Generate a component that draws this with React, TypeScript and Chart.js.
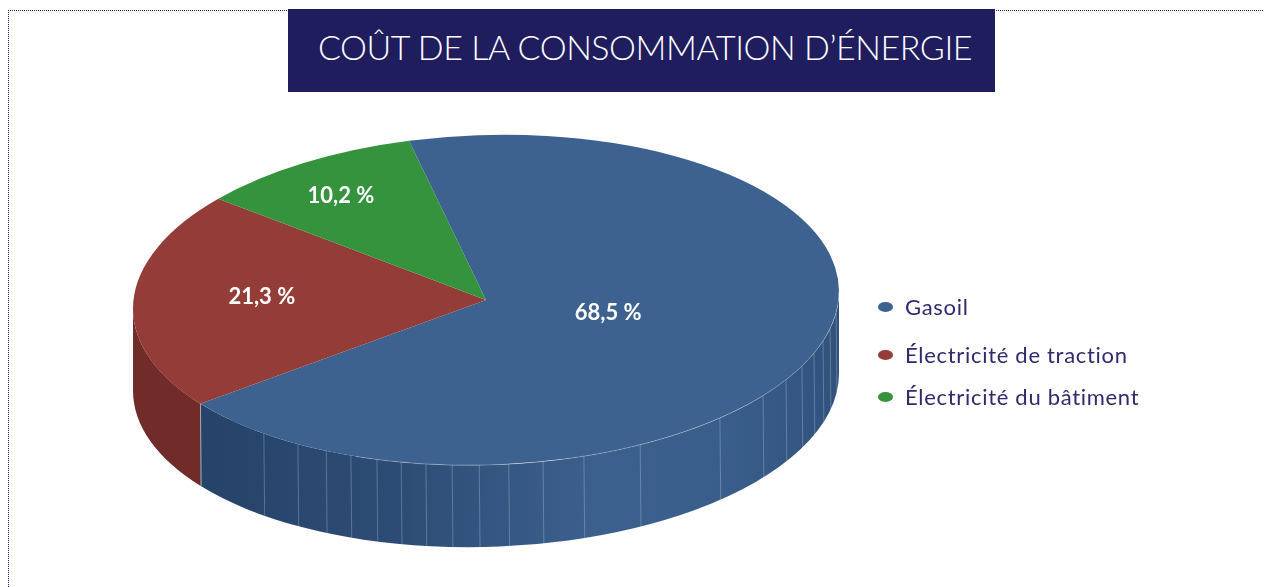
import React, { useEffect, useRef } from "react";
import { Chart, registerables } from "chart.js";

Chart.register(...registerables);

const titleText = "COÛT DE LA CONSOMMATION D’ÉNERGIE";
const categories = ["Gasoil", "Électricité de traction", "Électricité du bâtiment"];
const shares = [68.5, 21.3, 10.2];
const shareLabels = ["68,5 %", "21,3 %", "10,2 %"];
const topColors = ["#3d6290", "#943c38", "#35923d"];
const wallColors = ["#3d6290", "#712b28", "#2a7030"];
// where each value label sits, as a fraction of the ellipse radii from the centre
const labelAnchors = [
  [0.346, 0.076],
  [-0.635, -0.018],
  [-0.411, -0.63],
];
// vertical seams of the blue wall, degrees either side of the front of the pie
const seamAngles = [-39, -32.2, -26.9, -22.5, -18, -13.9, -9.8, -5.5, -1.1, 3.7, 9.3, 16.1, 25.9, 41.5, 51.7, 58.2, 63.5, 68.3, 72.7, 77.1, 82.7];
const legendRows = [307, 355, 397];

const RX = 353;
const RY = 165;
const DEPTH = 82;
const TILT = 0.024;

const pie3d = {
  id: "pie3d",
  beforeDatasetsDraw(chart: any) {
    const ctx = chart.ctx;
    const arcs = chart.getDatasetMeta(0).data;
    const { x: cx, y: cy } = arcs[0];
    ctx.save();
    ctx.translate(cx, cy);
    ctx.transform(1, -TILT, 0, 1, 0, 0);
    ctx.translate(-cx, -cy);
    // Walls: only the part of each slice's rim that faces the viewer
    arcs.forEach((arc: any, i: number) => {
      const segments: [number, number][] = [];
      for (const off of [0, Math.PI * 2]) {
        const a = Math.max(arc.startAngle + off, 0);
        const b = Math.min(arc.endAngle + off, Math.PI);
        if (b > a) segments.push([a, b]);
      }
      for (const [a, b] of segments) {
        ctx.beginPath();
        ctx.ellipse(cx, cy, RX, RY, 0, a, b);
        ctx.ellipse(cx, cy + DEPTH, RX, RY, 0, b, a, true);
        ctx.closePath();
        if (i === 0) {
          const g = ctx.createLinearGradient(cx - RX * 0.8, 0, cx + RX, 0);
          g.addColorStop(0, "#264369");
          g.addColorStop(0.3, "#2d4c75");
          g.addColorStop(0.62, "#3c608e");
          g.addColorStop(0.82, "#3a5e8b");
          g.addColorStop(1, "#30527d");
          ctx.fillStyle = g;
        } else {
          ctx.fillStyle = wallColors[i];
        }
        ctx.fill();
      }
    });
    // Seams on the wall
    ctx.strokeStyle = "rgba(255,255,255,0.24)";
    ctx.lineWidth = 1;
    for (const deg of seamAngles) {
      const t = ((90 - deg) * Math.PI) / 180;
      const x = cx + RX * Math.cos(t);
      const y = cy + RY * Math.sin(t);
      ctx.beginPath();
      ctx.moveTo(x, y);
      ctx.lineTo(x + 0.8, y + DEPTH);
      ctx.stroke();
    }
    // Seam between the red and the blue wall
    const end = arcs[0].endAngle;
    const ex = cx + RX * Math.cos(end);
    const ey = cy + RY * Math.sin(end);
    ctx.strokeStyle = "rgba(255,255,255,0.4)";
    ctx.beginPath();
    ctx.moveTo(ex, ey);
    ctx.lineTo(ex + 1, ey + DEPTH);
    ctx.stroke();
    ctx.restore();
  },
  beforeDatasetDraw(chart: any) {
    const ctx = chart.ctx;
    const arc = chart.getDatasetMeta(0).data[0];
    ctx.save();
    ctx.translate(arc.x, arc.y);
    ctx.transform(1, -TILT, 0, 1, 0, 0);
    ctx.scale(RX / arc.outerRadius, RY / arc.outerRadius);
    ctx.translate(-arc.x, -arc.y);
  },
  afterDatasetDraw(chart: any) {
    chart.ctx.restore();
  },
  afterDatasetsDraw(chart: any) {
    const ctx = chart.ctx;
    const arcs = chart.getDatasetMeta(0).data;
    const { x: cx, y: cy } = arcs[0];
    // Pale rim on the lit front edge
    ctx.save();
    ctx.translate(cx, cy);
    ctx.transform(1, -TILT, 0, 1, 0, 0);
    ctx.translate(-cx, -cy);
    ctx.strokeStyle = "rgba(255,255,255,0.32)";
    ctx.lineWidth = 0.8;
    ctx.beginPath();
    ctx.ellipse(cx, cy, RX, RY, 0, 0, Math.PI * 0.62);
    ctx.stroke();
    ctx.restore();
    // Value labels
    ctx.save();
    ctx.fillStyle = "#ffffff";
    ctx.font = "700 22px Lato";
    ctx.textAlign = "center";
    ctx.textBaseline = "middle";
    shareLabels.forEach((label, i) => {
      ctx.fillText(label, cx + labelAnchors[i][0] * RX, cy + labelAnchors[i][1] * RY);
    });
    ctx.restore();
  },
};

export default function App() {
  const ref = useRef<HTMLCanvasElement>(null);
  useEffect(() => {
    const chart = new Chart(ref.current!, {
      type: "pie",
      data: {
        labels: categories,
        datasets: [
          { data: shares, backgroundColor: topColors, borderWidth: 0, clip: false } as any,
        ],
      },
      options: {
        animation: false,
        responsive: false,
        rotation: -12.6,
        layout: { padding: { left: 0, right: 292, top: 20, bottom: 7 } },
        plugins: { legend: { display: false }, tooltip: { enabled: false } },
      },
      plugins: [pie3d],
    });
    return () => chart.destroy();
  }, []);

  return (
    <div style={{ position: "fixed", left: 0, top: 0, width: 1264, height: 587, overflow: "hidden", background: "#fff" }}>
      <div style={{ position: "absolute", left: 8, top: 10, width: 1300, height: 640, borderTop: "1px dotted #23207a", borderLeft: "1px dotted #23207a" }} />
      <canvas ref={ref} width={1264} height={587} style={{ position: "absolute", left: 0, top: 0, width: 1264, height: 587 }} />
      <div
        style={{
          position: "absolute", left: 288, top: 9, width: 707, height: 83, background: "#1f1d5e", color: "#fff",
          fontFamily: "Lato", fontWeight: 300, fontSize: 34, letterSpacing: -0.44, lineHeight: "76px", whiteSpace: "nowrap", textAlign: "center", paddingLeft: 7, boxSizing: "border-box",
        }}
      >
        {titleText}
      </div>
      {categories.map((name, i) => (
        <div key={name} style={{ position: "absolute", left: 878, top: legendRows[i] - 14, height: 28, display: "flex", alignItems: "center", whiteSpace: "nowrap" }}>
          <span style={{ display: "inline-block", width: 15, height: 10, borderRadius: "50%", background: topColors[i], marginRight: 12 }} />
          <span style={{ fontFamily: "Lato", fontSize: 22, color: "#2e2a6e", letterSpacing: 0.7, position: "relative", top: -1 }}>{name}</span>
        </div>
      ))}
    </div>
  );
}
